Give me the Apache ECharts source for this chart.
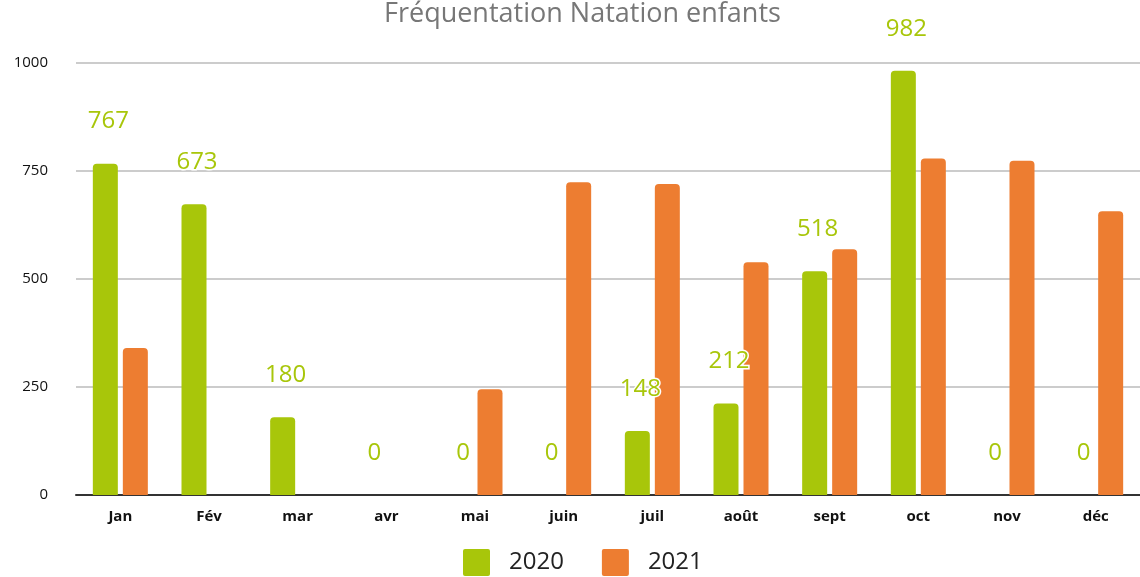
<!DOCTYPE html>
<html>
<head>
<meta charset="utf-8">
<script src="https://cdn.jsdelivr.net/npm/echarts@6/dist/echarts.min.js"></script>
<style>
  html, body { margin: 0; padding: 0; background: #fff; }
  #main { width: 1140px; height: 577px; }
</style>
</head>
<body>
<div id="main"></div>
<script>
var months = ['Jan', 'Fév', 'mar', 'avr', 'mai', 'juin', 'juil', 'août', 'sept', 'oct', 'nov', 'déc'];
var data2020 = [767, 673, 180, 0, 0, 0, 148, 212, 518, 982, 0, 0];
var data2021 = [340, null, null, null, 245, 724, 720, 539, 569, 779, 774, 657];
var yTicks = [0, 250, 500, 750, 1000];

var myChart = echarts.init(document.getElementById('main'));

var option = {
  textStyle: { fontFamily: 'Open Sans' },
  title: {
    text: 'Fréquentation Natation enfants',
    left: 379,
    top: -4,
    textStyle: { color: '#777', fontSize: 27, fontWeight: 'normal', fontFamily: 'Open Sans' }
  },
  legend: {
    data: ['2020', '2021'],
    bottom: -4,
    left: 458,
    itemWidth: 27,
    itemHeight: 27,
    itemGap: 38,
    icon: 'path://M2,0 L25,0 Q27,0 27,2 L27,25 Q27,27 25,27 L2,27 Q0,27 0,25 L0,2 Q0,0 2,0 Z',
    textStyle: { fontSize: 24, color: '#222', padding: [0, 0, 0, 14] }
  },
  grid: { left: 76, right: 0, top: 63, bottom: 82, containLabel: false },
  xAxis: {
    type: 'category',
    data: months,
    axisTick: { show: false },
    axisLine: { lineStyle: { color: '#333', width: 2 } },
    axisLabel: { color: '#111', fontSize: 15, fontWeight: 'bold', margin: 14 }
  },
  yAxis: {
    type: 'value',
    min: yTicks[0],
    max: yTicks[yTicks.length - 1],
    interval: 250,
    axisLabel: { color: '#111', fontSize: 15, margin: 28, formatter: function (v) { return String(v); } },
    splitLine: { lineStyle: { color: '#ccc', width: 2 } }
  },
  series: [
    {
      name: '2020',
      type: 'bar',
      data: data2020,
      barWidth: 25,
      barGap: '20%',
      itemStyle: { color: '#A8C60A', borderRadius: [4, 4, 0, 0] },
      label: {
        show: true,
        position: 'top',
        distance: 30,
        offset: [3, 0],
        color: '#A8C60A',
        fontSize: 24,
        textBorderColor: '#fff',
        textBorderWidth: 3
      }
    },
    {
      name: '2021',
      type: 'bar',
      data: data2021,
      barWidth: 25,
      itemStyle: { color: '#ED7D31', borderRadius: [4, 4, 0, 0] }
    }
  ]
};

myChart.setOption(option);
</script>
</body>
</html>
